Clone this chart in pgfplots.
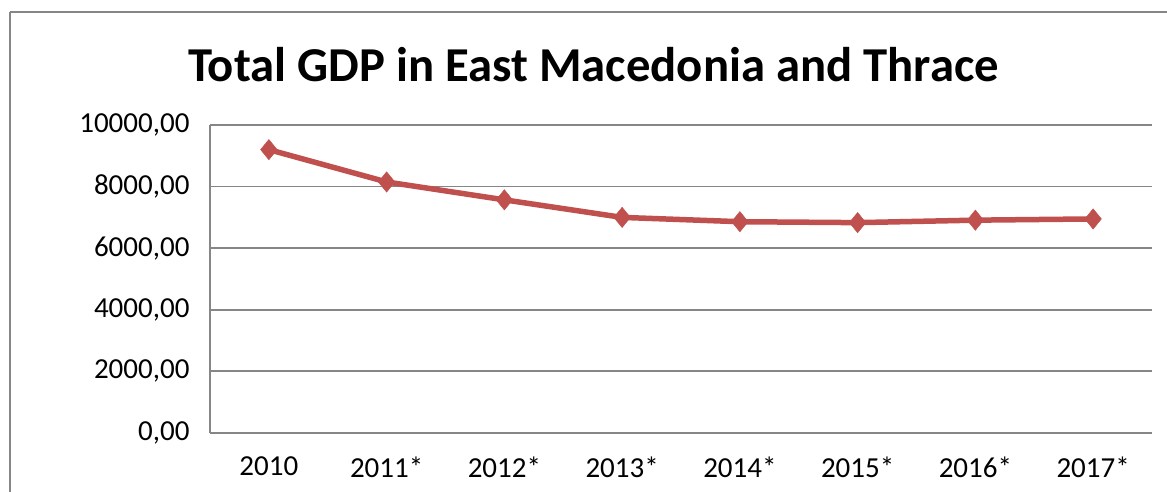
\documentclass[border=0pt]{standalone}
\usepackage{pgfplots}
\pgfplotsset{compat=1.18}
\usepackage{fontspec}
\setmainfont{Carlito}
\definecolor{gridgray}{RGB}{134,134,134}
\definecolor{linered}{RGB}{192,80,77}
\begin{document}
\begin{tikzpicture}[x=1pt,y=1pt]
\useasboundingbox (0,0) rectangle (1167,492);
\clip (0,0) rectangle (1167,492);
\draw[gridgray, line width=1.8pt] (10,480) -- (1190,480);
\draw[gridgray, line width=1.8pt] (10,480) -- (10,-10);
\node[anchor=base, font=\fontsize{48.7}{58}\selectfont\bfseries] at (593.5,410) {Total GDP in East Macedonia and Thrace};
\begin{axis}[
  at={(210pt,59pt)}, anchor=south west,
  scale only axis, width=942pt, height=308pt,
  xmin=-0.5, xmax=7.5, ymin=0, ymax=10000,
  scaled y ticks=false,
  xtick={0,1,2,3,4,5,6,7},
  xticklabels={2010,2011*,2012*,2013*,2014*,2015*,2016*,2017*},
  ytick={0,2000,4000,6000,8000,10000},
  yticklabels={{0,00},{2000,00},{4000,00},{6000,00},{8000,00},{10000,00}},
  ymajorgrids, grid style={gridgray, line width=1.8pt},
  axis x line*=bottom, axis y line*=left,
  axis line style={gridgray, line width=1.8pt, -},
  major tick length=0pt,
  tick label style={font=\fontsize{29}{34}\selectfont, text=black},
  yticklabel style={xshift=-17pt},
  xticklabel style={yshift=-20pt},
  clip=false,
]
\addplot[linered, line width=5.5pt, mark=diamond*, mark size=11pt, mark options={fill=linered, draw=linered, line width=0.5pt, yscale=0.92}]
  coordinates {(0,9200) (1,8150) (2,7570) (3,7000) (4,6860) (5,6830) (6,6910) (7,6950)};
\end{axis}
\end{tikzpicture}
\end{document}
